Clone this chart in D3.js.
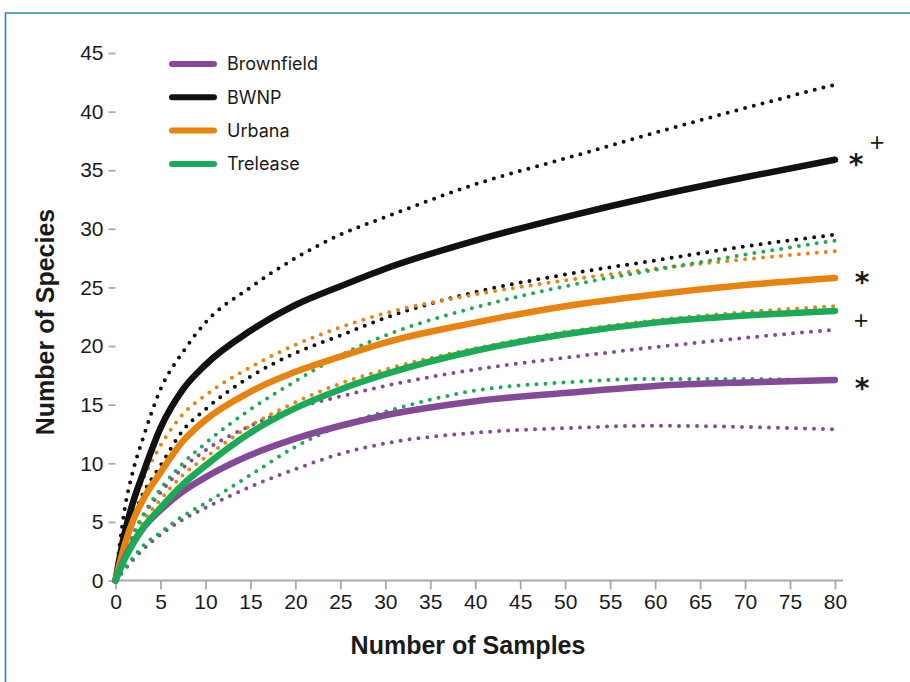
<!DOCTYPE html>
<html>
<head>
<meta charset="utf-8">
<script src="https://cdn.jsdelivr.net/npm/d3@7"></script>
<style>
  body { margin: 0; background: #fff; }
  svg text { font-family: "Liberation Sans", Arial, sans-serif; fill: #1a1a1a; }
</style>
</head>
<body>
<script>
let samples = [0, 1, 2, 3, 5, 7.5, 10, 15, 20, 25, 30, 40, 50, 60, 70, 80]

let sites = ["Brownfield", "BWNP", "Urbana", "Trelease"]
let siteColors = ["#844a98", "#111111", "#e8830f", "#1aab58"]

// rarefaction means
let brownfieldMean = [0, 1.9, 3.3, 4.4, 6.0, 7.6, 8.8, 10.7, 12.1, 13.2, 14.1, 15.3, 16.0, 16.6, 16.9, 17.1]
let bwnpMean       = [0, 4.0, 6.8, 9.0, 13.0, 16.3, 18.4, 21.3, 23.5, 25.1, 26.6, 29.0, 31.0, 32.8, 34.4, 35.9]
let urbanaMean     = [0, 3.0, 5.2, 6.8, 9.2, 11.9, 13.7, 16.1, 17.8, 19.1, 20.3, 22.0, 23.4, 24.4, 25.2, 25.8]
let treleaseMean   = [0, 1.8, 3.2, 4.4, 6.2, 8.2, 9.8, 12.6, 14.7, 16.3, 17.6, 19.6, 21.0, 22.0, 22.6, 23.0]

// upper confidence bounds
let brownfieldHi = [0, 2.2, 4.0, 5.4, 7.5, 9.6, 11.1, 13.2, 14.7, 15.7, 16.6, 18.0, 19.0, 19.9, 20.7, 21.4]
let bwnpHi       = [0, 6.0, 9.5, 12.0, 16.3, 19.5, 22.0, 25.0, 27.5, 29.5, 31.0, 33.8, 36.0, 38.2, 40.3, 42.3]
let urbanaHi     = [0, 3.8, 6.5, 8.5, 11.5, 14.2, 15.8, 18.2, 20.1, 21.6, 22.8, 24.4, 25.6, 26.6, 27.4, 28.1]
let treleaseHi   = [0, 2.2, 4.0, 5.5, 7.8, 10.0, 11.7, 14.6, 17.0, 19.2, 20.9, 23.3, 25.1, 26.5, 27.8, 29.0]

// lower confidence bounds
let brownfieldLo = [0, 0.9, 1.8, 2.6, 3.9, 5.2, 6.2, 8.0, 9.5, 10.8, 11.7, 12.6, 13.0, 13.2, 13.1, 12.9]
let bwnpLo       = [0, 3.0, 5.5, 7.3, 9.8, 12.8, 14.6, 17.4, 19.4, 20.9, 22.4, 24.6, 26.1, 27.3, 28.5, 29.5]
let urbanaLo     = [0, 2.2, 3.8, 5.0, 6.9, 9.0, 10.5, 13.2, 15.2, 16.8, 18.0, 19.8, 21.2, 22.2, 22.9, 23.4]
let treleaseLo   = [0, 1.0, 2.0, 2.9, 4.1, 5.5, 6.6, 9.0, 11.4, 13.2, 14.4, 16.2, 16.9, 17.2, 17.2, 17.0]

let xTicks = d3.range(0, 81, 5)
let yTicks = d3.range(0, 46, 5)

// significance marks at the right end of the curves
let marks = [
    {text: "*", value: 36.0, dx: 21, dy: 6},
    {text: "+", value: 37.4, dx: 42, dy: 0},
    {text: "*", value: 25.9, dx: 27, dy: 6},
    {text: "+", value: 22.3, dx: 26, dy: 1},
    {text: "*", value: 16.9, dx: 27, dy: 6}
]

let width = 910
let height = 682

let svg = d3.select("body")
    .append("svg")
    .attr("width", width)
    .attr("height", height)

// frame
svg.append("path")
    .attr("d", "M5.5,690 V13 H920")
    .style("fill", "none")
    .style("stroke", "#2a87b2")
    .style("stroke-width", 1.6)

let xScale = d3.scaleLinear().domain([0, 80]).range([115.5, 835])
let yScale = d3.scaleLinear().domain([0, 45]).range([580.5, 53])

// axes
let xAxis = svg.append("g")
    .attr("transform", `translate(0,${yScale(0)})`)
    .call(d3.axisBottom(xScale).tickValues(xTicks).tickSize(9).tickPadding(5).tickSizeOuter(0))
let yAxis = svg.append("g")
    .attr("transform", `translate(${xScale(0)},0)`)
    .call(d3.axisLeft(yScale).tickValues(yTicks).tickSize(7).tickPadding(5).tickSizeOuter(0))

xAxis.select(".domain").attr("d", `M${xScale(0)},0H${xScale(80) + 8}`)
yAxis.select(".domain").attr("d", `M0,0V${yScale(45) - yScale(0)}`)

for (let ax of [xAxis, yAxis]) {
    ax.attr("font-size", 21).attr("font-family", "Liberation Sans, Arial, sans-serif")
    ax.selectAll(".domain, .tick line")
        .style("stroke", "#a9a9a9")
        .style("stroke-width", 1.8)
    ax.selectAll(".tick text")
        .attr("font-size", 21)
        .style("fill", "#1a1a1a")
}

// axis titles
svg.append("text")
    .attr("x", 468)
    .attr("y", 654)
    .attr("text-anchor", "middle")
    .style("font-size", "25px")
    .style("font-weight", "bold")
    .text("Number of Samples")

svg.append("text")
    .attr("transform", "translate(54,322) rotate(-90)")
    .attr("text-anchor", "middle")
    .style("font-size", "25px")
    .style("font-weight", "bold")
    .text("Number of Species")

let lineFunction = d3.line()
    .x(d => xScale(d[0]))
    .y(d => yScale(d[1]))
    .curve(d3.curveMonotoneX)

let means = [brownfieldMean, bwnpMean, urbanaMean, treleaseMean]
let his = [brownfieldHi, bwnpHi, urbanaHi, treleaseHi]
let los = [brownfieldLo, bwnpLo, urbanaLo, treleaseLo]

let plot = svg.append("g")

// dotted bounds first, solid means on top
sites.forEach((s, i) => {
    for (let vals of [his[i], los[i]]) {
        plot.append("path")
            .datum(samples.map((x, j) => [x, vals[j]]))
            .attr("d", lineFunction)
            .style("fill", "none")
            .style("stroke", siteColors[i])
            .style("stroke-width", 4)
            .style("stroke-linecap", "round")
            .style("stroke-dasharray", "0 9")
    }
})

let drawOrder = [1, 2, 0, 3]
drawOrder.forEach(i => {
    plot.append("path")
        .datum(samples.map((x, j) => [x, means[i][j]]))
        .attr("d", lineFunction)
        .style("fill", "none")
        .style("stroke", siteColors[i])
        .style("stroke-width", 6.5)
        .style("stroke-linecap", "round")
})

// end marks
svg.selectAll(".mark")
    .data(marks)
    .enter()
    .append("text")
    .attr("class", "mark")
    .attr("x", d => xScale(80) + d.dx)
    .attr("y", d => yScale(d.value) + d.dy)
    .attr("text-anchor", "middle")
    .attr("dominant-baseline", "central")
    .attr("font-size", d => d.text == "*" ? 28 : 25)
    .style("font-family", d => d.text == "*" ? "'DejaVu Sans', sans-serif" : null)
    .style("font-weight", d => d.text == "*" ? "bold" : null)
    .style("fill", "#1a1a1a")
    .text(d => d.text)

// legend
let legend = svg.append("g").attr("transform", "translate(170,64)")
sites.forEach((s, i) => {
    let row = legend.append("g").attr("transform", `translate(0,${i * 33.3})`)
    row.append("line")
        .attr("x1", 2).attr("x2", 44)
        .style("stroke", siteColors[i])
        .style("stroke-width", 6)
        .style("stroke-linecap", "round")
    row.append("text")
        .attr("x", 57)
        .attr("dy", "0.35em")
        .style("font-size", "18px")
        .style("font-family", "Inter, 'Noto Sans', sans-serif")
        .text(s)
})
</script>
</body>
</html>
